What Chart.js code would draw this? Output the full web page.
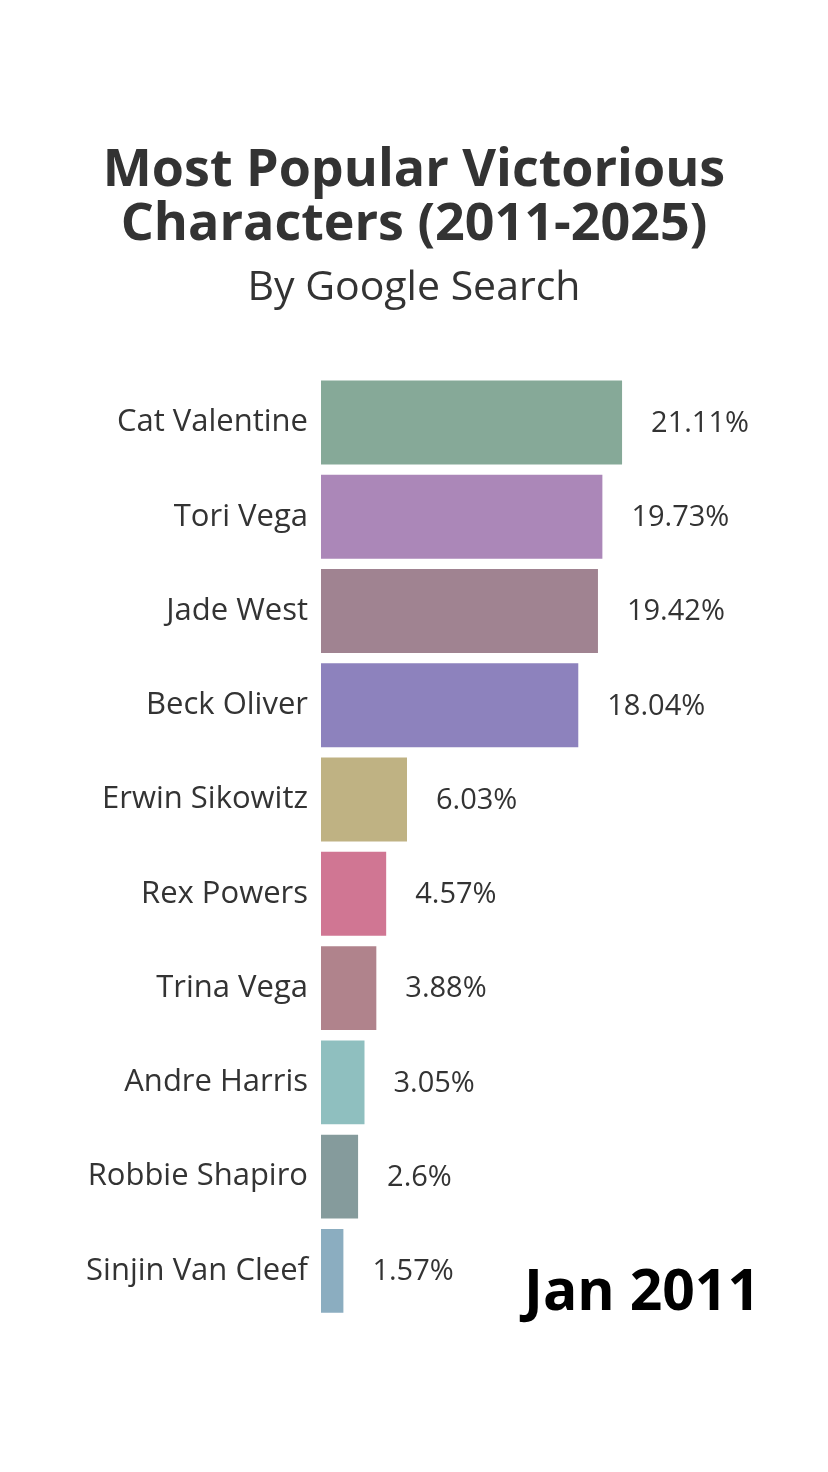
<!DOCTYPE html>
<html>
<head>
<meta charset="utf-8">
<script src="https://cdn.jsdelivr.net/npm/chart.js@4.4.1/dist/chart.umd.min.js"></script>
<style>
  html, body { margin:0; padding:0; background:#fff; }
  #wrap { width:828px; height:1472px; }
</style>
</head>
<body>
<div id="wrap"><canvas id="chart" width="828" height="1472"></canvas></div>
<script>
// data
const characters = ['Cat Valentine','Tori Vega','Jade West','Beck Oliver','Erwin Sikowitz','Rex Powers','Trina Vega','Andre Harris','Robbie Shapiro','Sinjin Van Cleef'];
const shares = [21.11, 19.73, 19.42, 18.04, 6.03, 4.57, 3.88, 3.05, 2.6, 1.57];
const barColors = ['#86a998','#ab87b8','#a08391','#8d82bd','#bfb283','#d07693','#b0838c','#8fbfbf','#859b9c','#8badc0'];
const periodLabel = 'Jan 2011';

const FONT = '"Open Sans", "Noto Sans", sans-serif';
const TEXT = '#333333';

// value labels at the end of each bar + the date stamp
const valueLabels = {
  id: 'valueLabels',
  afterDatasetsDraw(chart){
    const {ctx} = chart;
    const meta = chart.getDatasetMeta(0);
    ctx.save();
    ctx.font = '29px ' + FONT;
    ctx.fillStyle = TEXT;
    ctx.textAlign = 'left';
    ctx.textBaseline = 'middle';
    meta.data.forEach((bar, i)=>{
      ctx.fillText(shares[i] + '%', bar.x + 29, bar.y + 1);
    });
    // date
    ctx.font = 'bold 57px ' + FONT;
    ctx.fillStyle = '#000';
    ctx.textAlign = 'right';
    ctx.textBaseline = 'alphabetic';
    ctx.fillText(periodLabel, 760, 1310);
    ctx.restore();
  }
};

const ctx = document.getElementById('chart').getContext('2d');
new Chart(ctx, {
  type: 'bar',
  data: {
    labels: characters,
    datasets: [{ data: shares, backgroundColor: barColors, borderWidth: 0, barPercentage: 0.89, categoryPercentage: 1 }]
  },
  options: {
    indexAxis: 'y',
    responsive: false,
    animation: false,
    layout: { padding: { left: 0, right: 0, top: 0, bottom: 154 } },
    plugins: {
      legend: { display: false },
      tooltip: { enabled: false },
      title: {
        display: true,
        text: ['Most Popular Victorious', 'Characters (2011-2025)'],
        color: TEXT,
        font: { family: FONT, size: 52, weight: 'bold', lineHeight: 1.04 },
        padding: { top: 144, bottom: 12 }
      },
      subtitle: {
        display: true,
        text: 'By Google Search',
        color: TEXT,
        font: { family: FONT, size: 41, lineHeight: 1.2 },
        padding: { top: 0, bottom: 62 }
      }
    },
    scales: {
      x: { display: false, min: 0, max: 35.55 },
      y: {
        grid: { display: false },
        border: { display: false },
        ticks: { color: TEXT, font: { family: FONT, size: 31 }, padding: 5 },
        afterFit(scale){ scale.width = 321; }
      }
    }
  },
  plugins: [valueLabels]
});
</script>
</body>
</html>
